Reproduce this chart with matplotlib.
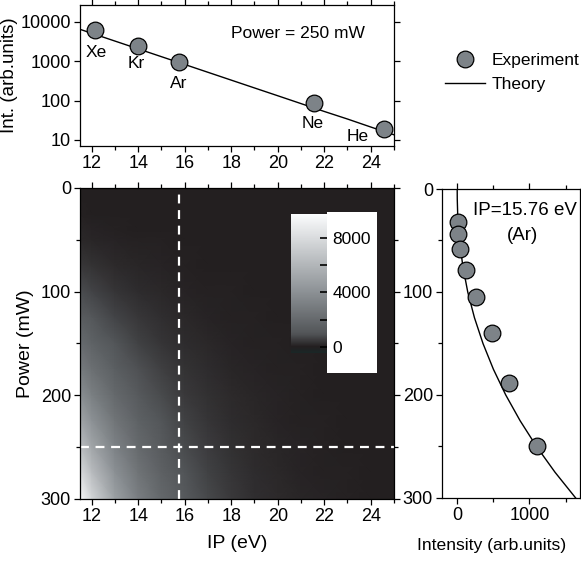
import matplotlib
matplotlib.use("Agg")
import matplotlib.pyplot as plt
import numpy as np
from matplotlib.colors import LinearSegmentedColormap, Normalize
from matplotlib.lines import Line2D
from matplotlib.ticker import MultipleLocator

plt.rcParams['font.family'] = ['Liberation Sans', 'DejaVu Sans']
plt.rcParams['font.size'] = 13

# experiment at 250 mW (top panel)
gases = ['Xe', 'Kr', 'Ar', 'Ne', 'He']
gas_ip = [12.13, 14.0, 15.76, 21.56, 24.59]
gas_int = [6100, 2500, 940, 85, 18.5]

# theory line read at 250 mW (straight on log axis)
heat_ip = [11.5, 12, 13, 14, 15, 16, 17, 18, 19, 20, 21, 22, 23, 24, 25]
heat_int_250 = [6500, 5170, 3270, 2070, 1310, 830, 525, 332, 210, 133, 84, 53, 34, 21.3, 13.5]

# Ar (IP=15.76 eV) intensity vs power
ar_power = [32, 44, 58, 79, 105, 140, 188, 250]
ar_int = [5, 5, 37, 116, 260, 479, 721, 1107]
power_theory = [0, 10, 25, 40, 50, 75, 100, 125, 150, 175, 200, 225, 250, 275, 300]
int_theory = [0, 1, 7, 20, 32, 78, 146, 239, 357, 501, 672, 871, 1098, 1354, 1640]

# intensity map: theory at 250 mW scaled by the power dependence
scale = np.array(int_theory) / int_theory[power_theory.index(250)]
heat = np.outer(scale, heat_int_250)

cmap = LinearSegmentedColormap.from_list(
    'grey', [(0, '#1a2626'), (0.043, '#231f20'), (0.14, '#525558'),
             (0.45, '#8e9397'), (1, '#fbfcfd')])
norm = Normalize(vmin=-440, vmax=9760)

fig = plt.figure(figsize=(5.81, 5.62), dpi=100)
ax_top = fig.add_axes([0.1377, 0.7402, 0.5404, 0.2509])
ax_map = fig.add_axes([0.1377, 0.1121, 0.5404, 0.5534])
ax_r = fig.add_axes([0.7608, 0.1139, 0.2375, 0.5498])

mk = dict(marker='o', ms=12, mfc='#7d8388', mec='black', mew=0.9, ls='none')


def style(ax):
    ax.tick_params(which='both', direction='out', top=True, right=True,
                   width=0.9, colors='black', labelsize=13, pad=2.5)
    ax.tick_params(which='major', length=4)
    ax.tick_params(which='minor', length=3)
    for s in ax.spines.values():
        s.set_linewidth(0.9)


# top panel
ax_top.plot(heat_ip, heat_int_250, color='black', lw=1)
ax_top.plot(gas_ip, gas_int, **mk)
offs = [(2, -22), (-2, -18), (0, -21), (-1, -20), (-27, -7)]
for g, x, y, o in zip(gases, gas_ip, gas_int, offs):
    ax_top.annotate(g, (x, y), xytext=o, textcoords='offset pixels',
                    ha='center', va='center', fontsize=12.5)
ax_top.set_yscale('log')
ax_top.set_ylim(7, 27000)
ax_top.set_xlim(11.5, 25)
ax_top.set_yticks([10, 100, 1000, 10000])
ax_top.set_yticklabels(['10', '100', '1000', '10000'])
ax_top.xaxis.set_major_locator(MultipleLocator(2))
ax_top.xaxis.set_minor_locator(MultipleLocator(1))
ax_top.set_ylabel('Int. (arb.units)', fontsize=13.5, labelpad=2)
ax_top.text(0.694, 0.80, 'Power = 250 mW', transform=ax_top.transAxes,
            ha='center', va='center', fontsize=12.5)
style(ax_top)

# main map
ax_map.pcolormesh(heat_ip, power_theory, heat, shading='gouraud', cmap=cmap, norm=norm)
ax_map.axvline(15.76, color='white', lw=1.6, ls=(0, (4, 3)))
ax_map.axhline(250, color='white', lw=1.6, ls=(0, (4, 3)))
ax_map.set_xlim(11.5, 25)
ax_map.set_ylim(300, 0)
ax_map.xaxis.set_major_locator(MultipleLocator(2))
ax_map.xaxis.set_minor_locator(MultipleLocator(1))
ax_map.yaxis.set_major_locator(MultipleLocator(100))
ax_map.yaxis.set_minor_locator(MultipleLocator(50))
ax_map.set_xlabel('IP (eV)', fontsize=14, labelpad=7)
ax_map.set_ylabel('Power (mW)', fontsize=14, labelpad=5)
style(ax_map)

# inset colour bar with white label box
box = fig.add_axes([0.5628, 0.3363, 0.0861, 0.2865])
box.set_facecolor('white')
box.set_xticks([])
box.set_yticks([])
for s in box.spines.values():
    s.set_visible(False)
cax = fig.add_axes([0.5009, 0.3719, 0.062, 0.2473])
cb = fig.colorbar(plt.cm.ScalarMappable(norm=norm, cmap=cmap), cax=cax)
cb.outline.set_visible(False)
cb.set_ticks([0, 4000, 8000])
cb.ax.yaxis.set_minor_locator(MultipleLocator(2000))
cb.ax.tick_params(which='both', direction='in', length=5, width=1.2, labelsize=12.5, pad=4)

# right panel
ax_r.plot(int_theory, power_theory, color='black', lw=1)
ax_r.plot(ar_int, ar_power, **mk)
ax_r.set_xlim(-210, 1700)
ax_r.set_ylim(300, 0)
ax_r.xaxis.set_major_locator(MultipleLocator(1000))
ax_r.xaxis.set_minor_locator(MultipleLocator(500))
ax_r.yaxis.set_major_locator(MultipleLocator(100))
ax_r.yaxis.set_minor_locator(MultipleLocator(50))
ax_r.set_xlabel('Intensity (arb.units)', fontsize=12.6)
ax_r.xaxis.set_label_coords(0.36, -0.13)
ax_r.text(0.6, 0.929, 'IP=15.76 eV', transform=ax_r.transAxes,
          ha='center', va='center', fontsize=13.5)
ax_r.text(0.58, 0.851, '(Ar)', transform=ax_r.transAxes,
          ha='center', va='center', fontsize=13.5)
style(ax_r)

handles = [Line2D([], [], **mk), Line2D([], [], color='black', lw=1)]
fig.legend(handles, ['Experiment', 'Theory'], loc='upper left',
           bbox_to_anchor=(0.766, 0.906), frameon=False, borderpad=0,
           borderaxespad=0, handlelength=2.3, handletextpad=0.4,
           labelspacing=0.5, fontsize=12.5)

fig.savefig('out.png', dpi=100)
